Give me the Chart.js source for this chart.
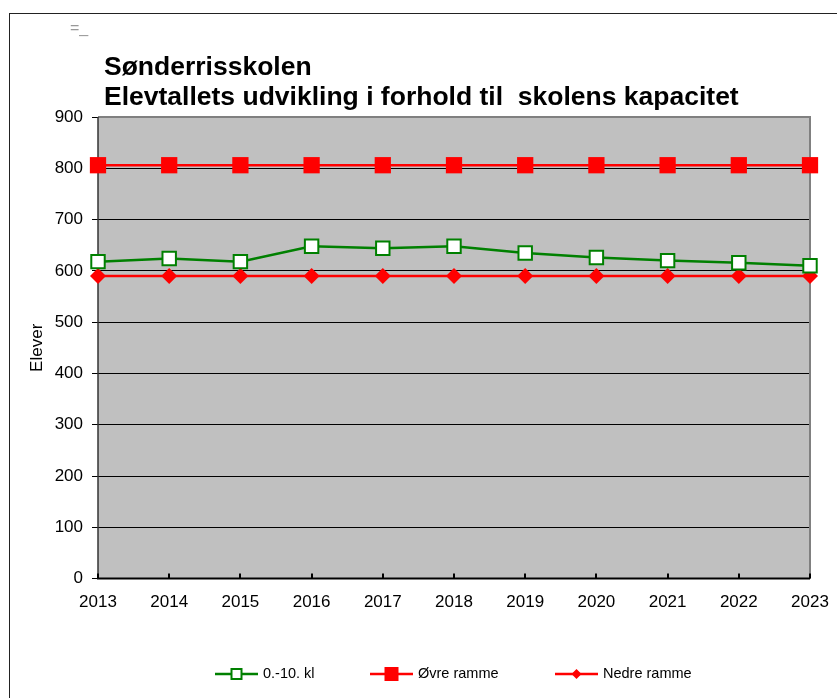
<!DOCTYPE html>
<html>
<head>
<meta charset="utf-8">
<script src="https://cdn.jsdelivr.net/npm/chart.js@4"></script>
<style>
  html, body { margin: 0; padding: 0; background: #fff; }
  #wrap { position: relative; width: 837px; height: 698px; overflow: hidden; }
  #frame { position: absolute; left: 9px; top: 13px; width: 840px; height: 720px; border: 1px solid #222; }
  canvas { position: absolute; left: 0; top: 0; }
</style>
</head>
<body>
<div id="wrap">
  <div id="frame"></div>
  <canvas id="chart" width="837" height="698"></canvas>
</div>
<script>
// Data
const years      = ['2013','2014','2015','2016','2017','2018','2019','2020','2021','2022','2023'];
const elever     = [618, 624, 618, 648, 644, 648, 635, 626, 620, 616, 610];
const ovreRamme  = [806, 806, 806, 806, 806, 806, 806, 806, 806, 806, 806];
const nedreRamme = [590, 590, 590, 590, 590, 590, 590, 590, 590, 590, 590];
const yTicks     = [0, 100, 200, 300, 400, 500, 600, 700, 800, 900];

const titleLines = ['Sønderrisskolen', 'Elevtallets udvikling i forhold til  skolens kapacitet'];
const FONT = 'Arial, "Liberation Sans", sans-serif';

// Grå plotflade + ramme, titel, legende og indadgående x-ticks
const decor = {
  id: 'decor',
  beforeDraw(chart) {
    const { ctx, chartArea: a } = chart;
    ctx.save();
    ctx.fillStyle = '#c0c0c0';
    ctx.fillRect(a.left, a.top, a.right - a.left, a.bottom - a.top);
    ctx.restore();
  },
  beforeDatasetsDraw(chart) {
    const { ctx, chartArea: a, scales } = chart;
    ctx.save();
    // top og højre kant i grå
    ctx.strokeStyle = '#808080';
    ctx.lineWidth = 2;
    ctx.beginPath();
    ctx.moveTo(a.left, a.top);
    ctx.lineTo(a.right, a.top);
    ctx.lineTo(a.right, a.bottom);
    ctx.stroke();
    // x-akse
    ctx.strokeStyle = '#000';
    ctx.lineWidth = 2;
    ctx.beginPath();
    ctx.moveTo(a.left - 1, a.bottom);
    ctx.lineTo(a.right, a.bottom);
    ctx.stroke();
    // venstre akse
    ctx.lineWidth = 1.5;
    ctx.strokeStyle = '#333';
    ctx.beginPath();
    ctx.moveTo(a.left, a.top);
    ctx.lineTo(a.left, a.bottom);
    ctx.stroke();
    // små ticks op fra x-aksen
    ctx.lineWidth = 2;
    ctx.strokeStyle = '#000';
    years.forEach((y, i) => {
      const x = Math.round(scales.x.getPixelForValue(i));
      ctx.beginPath();
      ctx.moveTo(x, a.bottom);
      ctx.lineTo(x, a.bottom - 5);
      ctx.stroke();
    });
    ctx.restore();
  },
  afterDraw(chart) {
    const { ctx } = chart;
    ctx.save();
    // lille mærke øverst til venstre
    ctx.fillStyle = '#999';
    ctx.font = '16px ' + FONT;
    ctx.textBaseline = 'alphabetic';
    ctx.fillText('=_', 70, 33);

    // titel
    ctx.fillStyle = '#000';
    ctx.font = 'bold 26.5px ' + FONT;
    ctx.textBaseline = 'middle';
    ctx.fillText(titleLines[0], 104, 68);
    ctx.fillText(titleLines[1], 104, 98);

    // legende
    const items = [
      { ds: chart.data.datasets[0], x: 215 },
      { ds: chart.data.datasets[1], x: 370 },
      { ds: chart.data.datasets[2], x: 555 }
    ];
    const ly = 674;
    items.forEach(({ ds, x }) => {
      ctx.strokeStyle = ds.borderColor;
      ctx.lineWidth = 2.5;
      ctx.beginPath();
      ctx.moveTo(x, ly);
      ctx.lineTo(x + 43, ly);
      ctx.stroke();
      const cx = x + 21.5;
      ctx.lineWidth = 2;
      if (ds.pointStyle === 'rect') {
        const s = ds.legendSize;
        ctx.fillStyle = ds.pointBackgroundColor;
        ctx.fillRect(cx - s / 2, ly - s / 2, s, s);
        ctx.strokeStyle = ds.pointBorderColor;
        ctx.strokeRect(cx - s / 2, ly - s / 2, s, s);
      } else {
        const s = ds.legendSize;
        ctx.fillStyle = ds.pointBackgroundColor;
        ctx.beginPath();
        ctx.moveTo(cx, ly - s);
        ctx.lineTo(cx + s, ly);
        ctx.lineTo(cx, ly + s);
        ctx.lineTo(cx - s, ly);
        ctx.closePath();
        ctx.fill();
      }
      ctx.fillStyle = '#000';
      ctx.font = '14.5px ' + FONT;
      ctx.textBaseline = 'middle';
      ctx.fillText(ds.label, x + 48, ly);
    });
    ctx.restore();
  }
};

new Chart(document.getElementById('chart'), {
  type: 'line',
  data: {
    labels: years,
    datasets: [
      {
        label: '0.-10. kl',
        data: elever,
        borderColor: '#008000',
        borderWidth: 2.5,
        pointStyle: 'rect',
        pointRadius: 9.5,
        pointBorderWidth: 2,
        pointBorderColor: '#008000',
        pointBackgroundColor: '#ffffff',
        legendSize: 10,
        tension: 0
      },
      {
        label: 'Øvre ramme',
        data: ovreRamme,
        borderColor: '#ff0000',
        borderWidth: 2.5,
        pointStyle: 'rect',
        pointRadius: 11.5,
        pointBorderWidth: 0,
        pointBorderColor: '#ff0000',
        pointBackgroundColor: '#ff0000',
        legendSize: 12,
        tension: 0
      },
      {
        label: 'Nedre ramme',
        data: nedreRamme,
        borderColor: '#ff0000',
        borderWidth: 2.5,
        pointStyle: 'rectRot',
        pointRadius: 8,
        pointBorderWidth: 0,
        pointBorderColor: '#ff0000',
        pointBackgroundColor: '#ff0000',
        legendSize: 5,
        tension: 0
      }
    ]
  },
  options: {
    responsive: false,
    animation: false,
    clip: false,
    layout: { padding: { left: 20, right: 27, top: 117, bottom: 79 } },
    plugins: {
      legend: { display: false },
      title: { display: false },
      tooltip: { enabled: false }
    },
    scales: {
      x: {
        type: 'category',
        offset: false,
        grid: { display: false },
        border: { display: false },
        ticks: {
          color: '#000',
          font: { family: FONT, size: 17 },
          padding: 6,
          maxRotation: 0,
          autoSkip: false
        }
      },
      y: {
        min: 0,
        max: 900,
        afterBuildTicks(scale) {
          scale.ticks = yTicks.map(v => ({ value: v }));
        },
        afterFit(scale) { scale.width = 78; },
        grid: {
          color: '#000',
          lineWidth: 1,
          drawTicks: true,
          tickLength: 6,
          tickColor: '#000'
        },
        border: { display: false },
        ticks: {
          color: '#000',
          font: { family: FONT, size: 17 },
          padding: 9
        },
        title: {
          display: true,
          text: 'Elever',
          color: '#000',
          font: { family: FONT, size: 17 },
          padding: { top: 7, bottom: 0 }
        }
      }
    }
  },
  plugins: [decor]
});
</script>
</body>
</html>
